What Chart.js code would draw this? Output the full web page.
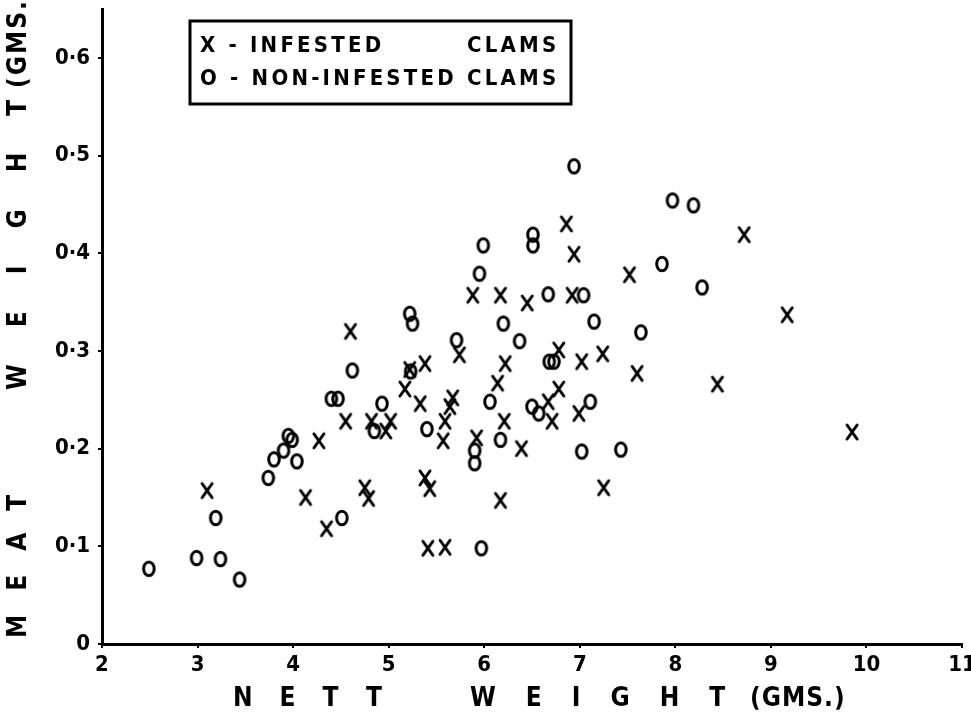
<!DOCTYPE html>
<html>
<head>
<meta charset="utf-8">
<script src="https://cdn.jsdelivr.net/npm/chart.js@4.4.1/dist/chart.umd.min.js"></script>
<style>
html, body { margin: 0; padding: 0; background: #fff; }
</style>
</head>
<body>
<canvas id="clams_chart" width="971" height="722"></canvas>
<script>
// nett weight vs meat weight (gms)
const infested_nett = [3.10, 4.13, 4.27, 4.35, 4.55, 4.60, 4.75, 4.79, 4.82, 4.97,
    5.02, 5.17, 5.22, 5.33, 5.38, 5.38, 5.41, 5.43, 5.57, 5.59,
    5.59, 5.64, 5.67, 5.74, 5.88, 5.92, 6.14, 6.17, 6.17, 6.21,
    6.22, 6.39, 6.45, 6.67, 6.71, 6.78, 6.78, 6.86, 6.92, 6.94,
    6.99, 7.02, 7.24, 7.25, 7.52, 7.60, 8.44, 8.72, 9.17, 9.85]
const infested_meat = [0.157, 0.150, 0.208, 0.118, 0.228, 0.320, 0.160, 0.149, 0.228, 0.218,
    0.228, 0.261, 0.281, 0.246, 0.287, 0.170, 0.098, 0.159, 0.208, 0.228,
    0.099, 0.243, 0.252, 0.296, 0.357, 0.211, 0.267, 0.357, 0.147, 0.228,
    0.287, 0.200, 0.349, 0.248, 0.228, 0.301, 0.261, 0.430, 0.357, 0.399,
    0.236, 0.289, 0.297, 0.160, 0.378, 0.277, 0.266, 0.419, 0.337, 0.217]

const non_infested_nett = [2.49, 2.99, 3.19, 3.24, 3.44, 3.74, 3.80, 3.90, 3.95, 3.99,
    4.04, 4.40, 4.47, 4.51, 4.62, 4.85, 4.93, 5.22, 5.25, 5.23,
    5.40, 5.71, 5.90, 5.90, 5.95, 5.97, 5.99, 6.06, 6.17, 6.20,
    6.37, 6.50, 6.51, 6.51, 6.57, 6.67, 6.68, 6.73, 6.94, 7.02,
    7.04, 7.11, 7.15, 7.43, 7.64, 7.86, 7.97, 8.19, 8.28]
const non_infested_meat = [0.077, 0.088, 0.129, 0.087, 0.066, 0.170, 0.189, 0.198, 0.213, 0.209,
    0.187, 0.251, 0.251, 0.129, 0.280, 0.218, 0.246, 0.338, 0.328, 0.279,
    0.220, 0.311, 0.198, 0.185, 0.379, 0.098, 0.408, 0.248, 0.209, 0.328,
    0.310, 0.243, 0.419, 0.408, 0.236, 0.358, 0.289, 0.289, 0.489, 0.197,
    0.357, 0.248, 0.330, 0.199, 0.319, 0.389, 0.454, 0.449, 0.365]

const legend_infested = ['X - INFESTED', 'CLAMS']
const legend_non_infested = 'O - NON-INFESTED CLAMS'
const x_title_words = ['NETT', 'WEIGHT', '(GMS.)']
const y_title_words = ['MEAT', 'WEIGHT', '(GMS.)']

const FONT = '"DejaVu Sans Condensed", "DejaVu Sans", sans-serif'

function make_marker(kind)
{
    const c = document.createElement('canvas')
    c.width = 18
    c.height = 20
    const g = c.getContext('2d')
    g.strokeStyle = '#000'
    g.lineWidth = 3
    g.lineCap = 'round'
    g.beginPath()
    if(kind === 'o')
        g.ellipse(9, 10, 5.3, 6.8, 0, 0, Math.PI * 2)
    else
    {
        g.moveTo(4, 3); g.lineTo(14, 17)
        g.moveTo(14, 3); g.lineTo(4, 17)
    }
    g.stroke()
    return c
}

function to_points(xs, ys)
{
    return xs.map((x, i) => ({x: x, y: ys[i]}))
}

// legend box and spaced-out axis titles, like the hand lettering
const decorations = {
    id: 'decorations',
    afterDraw(chart)
    {
        const ctx = chart.ctx
        ctx.save()
        ctx.fillStyle = '#000'
        ctx.strokeStyle = '#000'

        ctx.lineWidth = 3
        ctx.strokeRect(190, 21, 381, 83)
        ctx.font = 'bold 22px ' + FONT
        ctx.textBaseline = 'middle'
        ctx.letterSpacing = '3.2px'
        ctx.fillText(legend_infested[0], 200, 46)
        ctx.fillText(legend_non_infested, 200, 79)
        const clams_x = 200 + ctx.measureText('O - NON-INFESTED ').width
        ctx.fillText(legend_infested[1], clams_x, 46)

        ctx.font = 'bold 26px ' + FONT
        ctx.letterSpacing = '27px'
        ctx.fillText(x_title_words[0], 233, 699)
        ctx.letterSpacing = '30px'
        ctx.fillText(x_title_words[1], 470, 699)
        ctx.letterSpacing = '1px'
        ctx.fillText(x_title_words[2], 750, 699)

        ctx.translate(19, 644)
        ctx.rotate(-Math.PI / 2)
        ctx.letterSpacing = '24px'
        ctx.fillText(y_title_words[0], 6, 0)
        ctx.letterSpacing = '37px'
        ctx.fillText(y_title_words[1], 254, 0)
        ctx.letterSpacing = '2px'
        ctx.fillText(y_title_words[2], 556, 0)
        ctx.restore()
    }
}

function load_clams_chart()
{
    const ctx = document.getElementById('clams_chart').getContext('2d')

    new Chart(ctx,
        {
            type: 'scatter',
            data: {
                datasets: [
                    {
                        label: 'INFESTED CLAMS',
                        data: to_points(infested_nett, infested_meat),
                        pointStyle: make_marker('x'),
                        pointRadius: 8
                    },
                    {
                        label: 'NON-INFESTED CLAMS',
                        data: to_points(non_infested_nett, non_infested_meat),
                        pointStyle: make_marker('o'),
                        pointRadius: 8
                    }
                ]
            },
            options: {
                responsive: false,
                animation: false,
                layout: {
                    padding: {left: 0, right: 3, top: 6, bottom: 0}
                },
                plugins: {
                    legend: {display: false},
                    tooltip: {enabled: false}
                },
                scales: {
                    x: {
                        type: 'linear',
                        min: 2,
                        max: 11,
                        border: {color: '#000', width: 3},
                        grid: {drawOnChartArea: false, color: '#000', lineWidth: 2, tickLength: 4},
                        ticks: {
                            stepSize: 1,
                            color: '#000',
                            padding: 4,
                            maxRotation: 0,
                            font: {family: FONT, size: 22, weight: 'bold'}
                        },
                        afterFit(scale)
                        {
                            scale.height = 78
                            scale.paddingLeft = 0
                            scale.paddingRight = 0
                        }
                    },
                    y: {
                        min: 0,
                        max: 0.65,
                        border: {color: '#000', width: 3},
                        grid: {drawOnChartArea: false, color: '#000', lineWidth: 2, tickLength: 4},
                        ticks: {
                            stepSize: 0.1,
                            includeBounds: false,
                            color: '#000',
                            padding: 8,
                            font: {family: FONT, size: 22, weight: 'bold'},
                            callback: v => v === 0 ? '0' : v.toFixed(1).replace('.', '\u00b7')
                        },
                        afterFit(scale)
                        {
                            scale.width = 102
                            scale.paddingTop = 0
                            scale.paddingBottom = 0
                        }
                    }
                }
            },
            plugins: [decorations]
        }
    )
}

load_clams_chart()
</script>
</body>
</html>
